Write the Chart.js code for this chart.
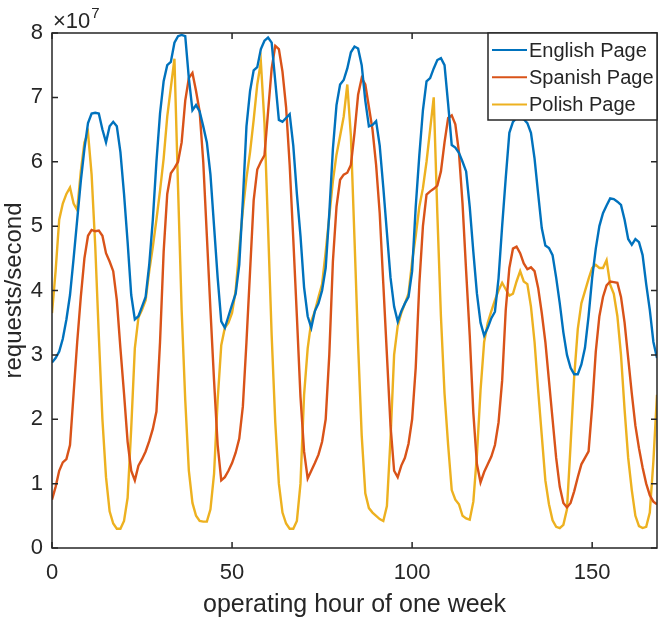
<!DOCTYPE html>
<html>
<head>
<meta charset="utf-8">
<script src="https://cdn.jsdelivr.net/npm/chart.js@4.4.1/dist/chart.umd.min.js"></script>
<style>
html,body{margin:0;padding:0;background:#fff;}
#wrap{width:659px;height:618px;}
</style>
</head>
<body>
<div id="wrap"><canvas id="c" width="659" height="618"></canvas></div>
<script>
// values in units of 1e7 requests/second, one per operating hour (0..168)
const english = [
2.88,2.95,3.05,3.25,3.55,3.93,4.5,5.1,5.7,6.2,
6.6,6.75,6.76,6.75,6.5,6.3,6.55,6.62,6.55,6.15,
5.5,4.75,3.93,3.55,3.6,3.75,3.9,4.4,5.1,6.0,
6.75,7.25,7.5,7.55,7.85,7.95,7.97,7.95,7.3,6.8,
6.88,6.78,6.55,6.3,5.8,5.0,4.2,3.52,3.42,3.6,
3.78,3.95,4.4,5.4,6.55,7.1,7.42,7.47,7.75,7.88,
7.93,7.85,7.25,6.65,6.62,6.68,6.74,6.25,5.5,4.85,
4.05,3.6,3.42,3.68,3.8,4.0,4.35,5.2,6.2,6.88,
7.2,7.27,7.45,7.7,7.79,7.76,7.5,6.95,6.55,6.57,
6.63,6.25,5.6,4.9,4.2,3.75,3.52,3.68,3.8,3.9,
4.3,5.3,6.1,6.8,7.25,7.3,7.45,7.58,7.61,7.5,
6.9,6.26,6.22,6.14,6.0,5.85,5.3,4.6,3.95,3.5,
3.3,3.42,3.57,3.67,4.19,5.0,5.75,6.45,6.62,6.68,
6.68,6.66,6.6,6.45,6.05,5.5,4.97,4.7,4.66,4.55,
4.2,3.8,3.35,3.0,2.8,2.7,2.7,2.85,3.11,3.6,
4.2,4.65,5.0,5.2,5.32,5.43,5.42,5.38,5.33,5.1,
4.8,4.71,4.8,4.75,4.55,4.1,3.7,3.2,2.95];

const spanish = [
0.75,0.95,1.2,1.33,1.38,1.6,2.4,3.2,3.9,4.5,
4.85,4.94,4.92,4.93,4.85,4.58,4.45,4.3,3.85,3.1,
2.4,1.65,1.2,1.05,1.28,1.38,1.5,1.66,1.85,2.12,
3.2,4.6,5.5,5.82,5.9,6.0,6.3,6.95,7.3,7.38,
7.1,6.78,6.0,4.85,3.7,2.6,1.6,1.05,1.1,1.2,
1.32,1.48,1.7,2.2,3.2,4.3,5.4,5.88,6.0,6.1,
6.78,7.45,7.8,7.75,7.4,6.85,5.95,4.8,3.6,2.35,
1.5,1.08,1.2,1.32,1.45,1.65,2.0,3.0,4.45,5.3,
5.72,5.8,5.83,5.95,6.45,7.04,7.3,7.2,6.85,6.5,
5.95,5.2,4.1,3.0,1.9,1.2,1.1,1.28,1.4,1.62,
2.0,2.8,4.1,5.0,5.49,5.54,5.58,5.63,5.85,6.3,
6.68,6.72,6.58,6.15,5.35,4.3,3.3,2.1,1.3,1.02,
1.18,1.3,1.42,1.6,1.95,2.6,3.7,4.35,4.65,4.68,
4.58,4.42,4.33,4.36,4.3,4.04,3.65,3.2,2.6,2.0,
1.4,0.95,0.7,0.63,0.7,0.88,1.1,1.3,1.4,1.5,
2.2,3.05,3.6,3.9,4.08,4.14,4.13,4.12,3.9,3.5,
2.95,2.4,1.9,1.55,1.25,1.0,0.82,0.72,0.68];

const polish = [
3.65,4.3,5.1,5.35,5.5,5.6,5.35,5.25,5.85,6.3,
6.45,5.8,4.7,3.3,2.0,1.1,0.57,0.38,0.3,0.3,
0.42,0.78,1.86,3.1,3.58,3.7,3.85,4.3,4.68,5.1,
5.55,6.05,6.7,7.15,7.6,5.6,3.7,2.3,1.2,0.7,
0.5,0.42,0.41,0.41,0.6,1.15,2.3,3.15,3.42,3.5,
3.65,4.0,4.65,5.25,5.75,6.15,6.65,7.2,7.55,6.6,
4.97,3.3,1.95,1.0,0.55,0.38,0.3,0.3,0.42,1.0,
2.38,3.1,3.52,3.68,3.9,4.1,4.6,5.15,5.7,6.11,
6.4,6.7,7.2,6.4,4.8,3.16,1.75,0.85,0.62,0.55,
0.5,0.45,0.42,0.65,1.7,3.0,3.45,3.65,3.8,3.95,
4.45,4.85,5.3,5.59,6.0,6.5,7.0,5.2,3.6,2.4,
1.6,0.9,0.75,0.68,0.5,0.46,0.44,0.72,1.45,2.45,
3.2,3.5,3.68,3.85,4.0,4.12,4.02,3.92,3.95,4.14,
4.3,4.14,4.1,3.75,3.2,2.45,1.75,1.05,0.68,0.43,
0.33,0.31,0.36,0.6,1.6,2.65,3.4,3.8,3.99,4.18,
4.35,4.4,4.35,4.35,4.47,4.09,3.95,3.6,3.0,2.15,
1.4,0.9,0.5,0.34,0.31,0.33,0.55,1.35,2.38];

const hours = english.map((_, i) => i);          // operating hour index 0..168
const seriesNames = ['English Page', 'Spanish Page', 'Polish Page'];
const seriesColors = ['#0072BD', '#D95319', '#EDB120'];
const xTicks = [0, 50, 100, 150];
const yTicks = [0, 1, 2, 3, 4, 5, 6, 7, 8];
const SCALE = 1e7;

const AXIS = '#262626';
const FONT = '"Liberation Sans", Arial, Helvetica, sans-serif';

function toPoints(arr) { return arr.map((v, i) => ({x: hours[i], y: v * SCALE})); }

const frame = {
  id: 'frame',
  afterDatasetsDraw(chart) {
    const {ctx, chartArea: a, scales: {x, y}} = chart;
    ctx.save();
    ctx.strokeStyle = AXIS;
    ctx.lineWidth = 1.5;
    const L = 6;
    ctx.beginPath();
    xTicks.forEach(v => {
      const px = x.getPixelForValue(v);
      ctx.moveTo(px, a.bottom); ctx.lineTo(px, a.bottom - L);
      ctx.moveTo(px, a.top); ctx.lineTo(px, a.top + L);
    });
    yTicks.forEach(v => {
      const py = y.getPixelForValue(v * SCALE);
      ctx.moveTo(a.left, py); ctx.lineTo(a.left + L, py);
      ctx.moveTo(a.right, py); ctx.lineTo(a.right - L, py);
    });
    ctx.stroke();
    ctx.strokeRect(a.left, a.top, a.right - a.left, a.bottom - a.top);

    // legend box (top-right, inside axes)
    const lw = 169, lh = 87;
    const lx = a.right - lw, ly = a.top;
    ctx.fillStyle = '#fff';
    ctx.fillRect(lx, ly, lw, lh);
    ctx.strokeRect(lx, ly, lw, lh);
    ctx.font = '20px ' + FONT;
    ctx.textBaseline = 'middle';
    ctx.textAlign = 'left';
    chart.data.datasets.forEach((ds, i) => {
      const cy = ly + 17 + i * 27.3;
      ctx.strokeStyle = ds.borderColor;
      ctx.lineWidth = 2;
      ctx.beginPath();
      ctx.moveTo(lx + 4, cy); ctx.lineTo(lx + 39, cy);
      ctx.stroke();
      ctx.fillStyle = AXIS;
      ctx.fillText(ds.label, lx + 41, cy + 1);
    });

    // exponent label
    ctx.fillStyle = AXIS;
    ctx.textBaseline = 'alphabetic';
    ctx.font = '22px ' + FONT;
    ctx.fillText('\u00d710', a.left + 1, a.top - 5);
    const w = ctx.measureText('\u00d710').width;
    ctx.font = '15px ' + FONT;
    ctx.fillText('7', a.left + 1 + w + 1, a.top - 15);
    ctx.restore();
  }
};

new Chart(document.getElementById('c').getContext('2d'), {
  type: 'line',
  data: {
    datasets: [english, spanish, polish].map((arr, i) => ({
      label: seriesNames[i],
      data: toPoints(arr),
      borderColor: seriesColors[i],
      backgroundColor: seriesColors[i],
      borderWidth: 2.4,
      pointRadius: 0,
      tension: 0,
      fill: false
    }))
  },
  options: {
    responsive: false,
    animation: false,
    devicePixelRatio: 1,
    layout: {padding: {left: 0, right: 2, top: 33, bottom: 0}},
    plugins: {legend: {display: false}, tooltip: {enabled: false}},
    scales: {
      x: {
        type: 'linear', min: 0, max: 168,
        afterBuildTicks: s => { s.ticks = xTicks.map(v => ({value: v})); },
        afterFit: s => { s.height = 70; },
        grid: {display: false, drawTicks: false},
        border: {display: false},
        ticks: {padding: 12, color: AXIS, font: {family: FONT, size: 22}, maxRotation: 0, autoSkip: false},
        title: {display: true, text: 'operating hour of one week', color: AXIS,
                font: {family: FONT, size: 25, lineHeight: 1.05}, padding: {top: 0, bottom: 0}}
      },
      y: {
        type: 'linear', min: 0, max: 8 * SCALE,
        afterBuildTicks: s => { s.ticks = yTicks.map(v => ({value: v * SCALE})); },
        afterFit: s => { s.width = 52; },
        grid: {display: false, drawTicks: false},
        border: {display: false},
        ticks: {padding: 9, color: AXIS, font: {family: FONT, size: 22},
                callback: v => String(v / SCALE)},
        title: {display: true, text: 'requests/second', color: AXIS,
                font: {family: FONT, size: 24}, padding: {top: 0, bottom: 0}}
      }
    }
  },
  plugins: [frame]
});
</script>
</body>
</html>
